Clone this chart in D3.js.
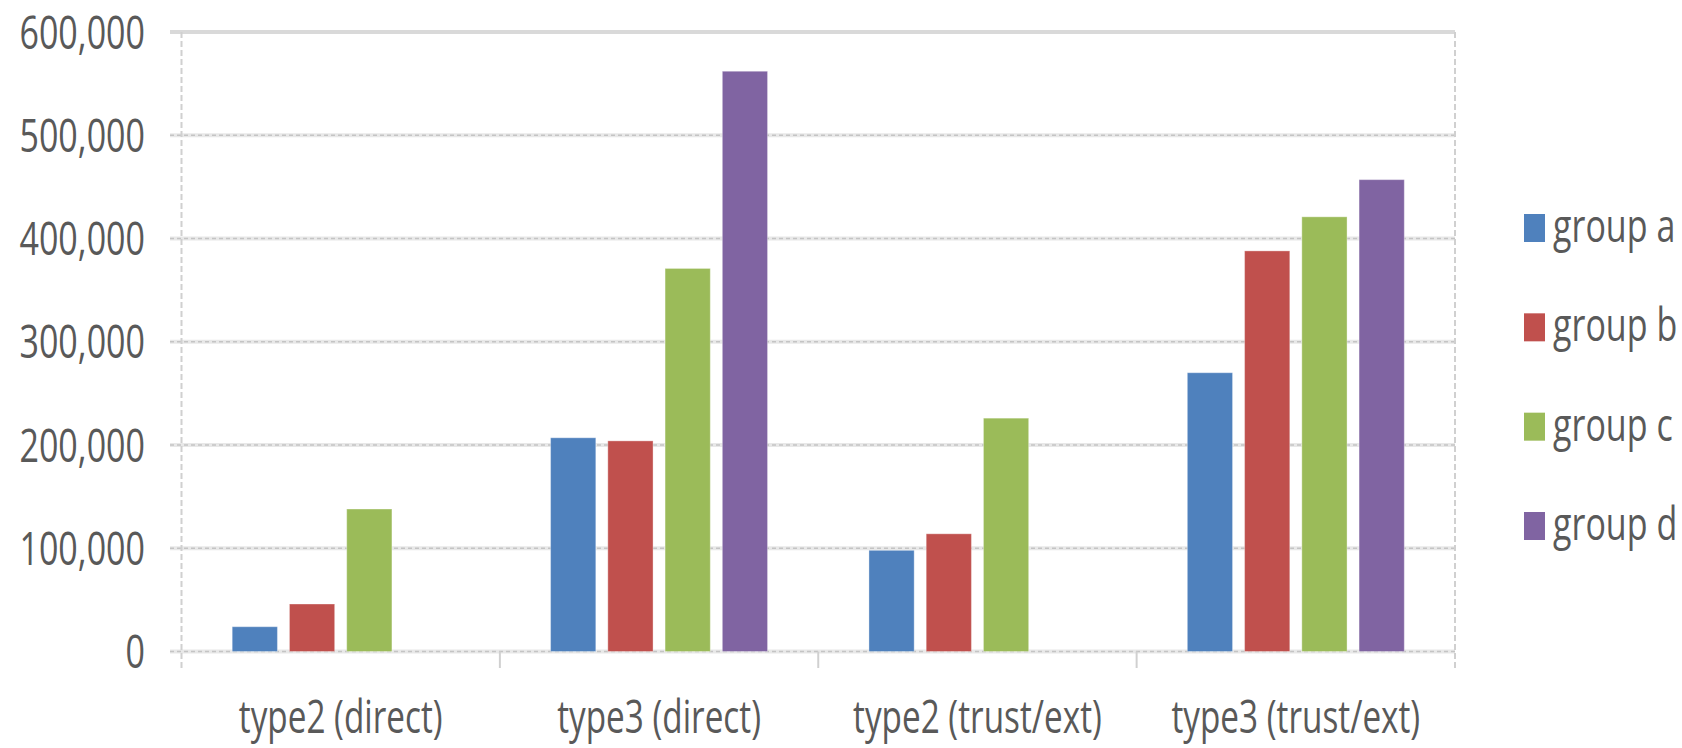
<!DOCTYPE html>
<html>
<head>
<meta charset="utf-8">
<script src="https://cdn.jsdelivr.net/npm/d3@7"></script>
<style>
  html, body { margin: 0; padding: 0; background: #ffffff; }
  svg { display: block; }
  text { font-family: "Open Sans", "Noto Sans", sans-serif; fill: #595959; }
</style>
</head>
<body>
<div id="chart"></div>
<script>
// ── Data ────────────────────────────────────────────────────────────────────
const categories = ["type2 (direct)", "type3 (direct)", "type2 (trust/ext)", "type3 (trust/ext)"];
const groups = ["group a", "group b", "group c", "group d"];
const groupA = [24000, 207000, 98000, 270000];
const groupB = [46000, 204000, 114000, 388000];
const groupC = [138000, 371000, 226000, 421000];
const groupD = [null, 562000, null, 457000];
const yTicks = [0, 100000, 200000, 300000, 400000, 500000, 600000];
const colors = ["#4F81BD", "#C0504D", "#9BBB59", "#8064A2"];

const seriesValues = [groupA, groupB, groupC, groupD];

// ── Layout ──────────────────────────────────────────────────────────────────
const width = 1682, height = 748;
const plot = { left: 181.5, right: 1455, top: 32, bottom: 651.5 };
const fontSize = 46;
const squeeze = 0.74;      // text in the source is horizontally compressed
const capHalf = 16.5;

const svg = d3.select("#chart").append("svg").attr("width", width).attr("height", height);

const y = d3.scaleLinear().domain([0, 600000]).range([plot.bottom, plot.top]);
const x0 = d3.scaleBand().domain(categories).range([plot.left, plot.right]).padding(0);
const x1 = d3.scaleBand().domain(groups).range([50.7, x0.bandwidth() - 50.7]).paddingInner(0.21);

// ── Gridlines ───────────────────────────────────────────────────────────────
const grid = svg.append("g").attr("class", "grid");

grid.selectAll("line.band")
  .data(yTicks.filter(t => t < 600000)).join("line")
  .attr("class", "band")
  .attr("x1", 170).attr("x2", plot.right)
  .attr("y1", d => y(d)).attr("y2", d => y(d))
  .attr("stroke", "#e8e8e8").attr("stroke-width", 4);

grid.selectAll("line.dash")
  .data(yTicks.filter(t => t < 600000)).join("line")
  .attr("class", "dash")
  .attr("x1", 170).attr("x2", plot.right)
  .attr("y1", d => y(d)).attr("y2", d => y(d))
  .attr("stroke", "#c4c4c4").attr("stroke-width", 1.5)
  .attr("stroke-dasharray", "4 3");

grid.append("line")
  .attr("x1", 170).attr("x2", plot.right)
  .attr("y1", y(600000)).attr("y2", y(600000))
  .attr("stroke", "#d9d9d9").attr("stroke-width", 4);

// vertical frame lines + category ticks
grid.selectAll("line.vert")
  .data([plot.left, plot.right]).join("line")
  .attr("class", "vert")
  .attr("x1", d => d).attr("x2", d => d)
  .attr("y1", plot.top).attr("y2", 668)
  .attr("stroke", "#d0d0d0").attr("stroke-width", 2)
  .attr("stroke-dasharray", "6 3");

grid.selectAll("line.ctick")
  .data(categories.slice(1)).join("line")
  .attr("class", "ctick")
  .attr("x1", d => x0(d)).attr("x2", d => x0(d))
  .attr("y1", plot.bottom).attr("y2", 668)
  .attr("stroke", "#d0d0d0").attr("stroke-width", 2);

// ── Bars ────────────────────────────────────────────────────────────────────
const barData = [];
categories.forEach((c, ci) => {
  groups.forEach((g, gi) => {
    const v = seriesValues[gi][ci];
    if (v != null) barData.push({ category: c, group: g, value: v, color: colors[gi] });
  });
});

svg.append("g").attr("class", "bars")
  .selectAll("rect")
  .data(barData).join("rect")
  .attr("x", d => x0(d.category) + x1(d.group))
  .attr("y", d => y(d.value))
  .attr("width", x1.bandwidth())
  .attr("height", d => y(0) - y(d.value))
  .attr("fill", d => d.color)
  .attr("stroke", "#ffffff").attr("stroke-opacity", 0.35).attr("stroke-width", 1);

// ── Axis labels ─────────────────────────────────────────────────────────────
const fmt = d3.format(",");

svg.append("g").attr("class", "y-labels")
  .selectAll("text")
  .data(yTicks).join("text")
  .attr("transform", d => `translate(145,${y(d) + capHalf}) scale(${squeeze},1)`)
  .attr("text-anchor", "end")
  .attr("font-size", fontSize)
  .text(d => fmt(d));

svg.append("g").attr("class", "x-labels")
  .selectAll("text")
  .data(categories).join("text")
  .attr("transform", d => `translate(${x0(d) + x0.bandwidth() / 2},733) scale(${squeeze},1)`)
  .attr("text-anchor", "middle")
  .attr("font-size", fontSize - 1)
  .text(d => d);

// ── Legend ──────────────────────────────────────────────────────────────────
const legendY = d3.scalePoint().domain(groups).range([228, 526]);

const legend = svg.append("g").attr("class", "legend")
  .selectAll("g")
  .data(groups).join("g")
  .attr("transform", d => `translate(1524,${legendY(d)})`);

legend.append("rect")
  .attr("x", 0).attr("y", -14)
  .attr("width", 21).attr("height", 28)
  .attr("fill", (d, i) => colors[i]);

legend.append("text")
  .attr("transform", `translate(29,14) scale(${squeeze},1)`)
  .attr("font-size", fontSize)
  .text(d => d);
</script>
</body>
</html>
